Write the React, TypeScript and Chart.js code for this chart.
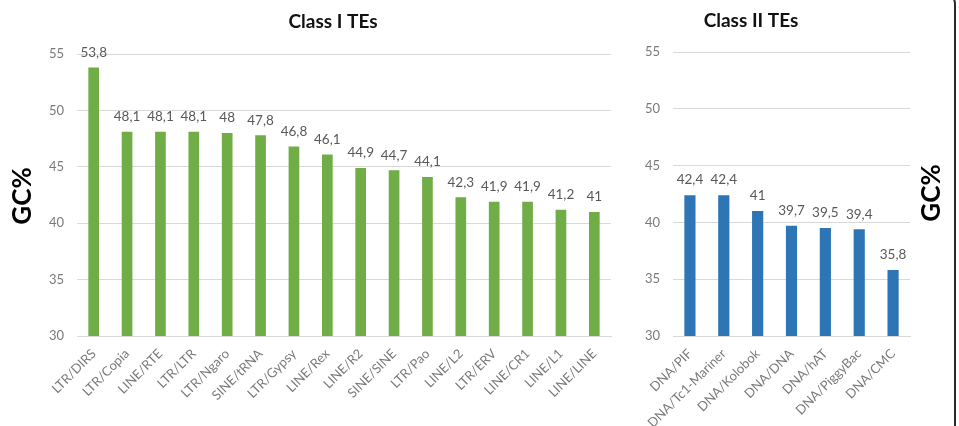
import React, { useEffect, useRef } from "react";
import { Chart, registerables } from "chart.js";

Chart.register(...registerables);

const classICategories = [
  "LTR/DIRS", "LTR/Copia", "LINE/RTE", "LTR/LTR", "LTR/Ngaro", "SINE/tRNA",
  "LTR/Gypsy", "LINE/Rex", "LINE/R2", "SINE/SINE", "LTR/Pao", "LINE/L2",
  "LTR/ERV", "LINE/CR1", "LINE/L1", "LINE/LINE",
];
const classIValues = [53.8, 48.1, 48.1, 48.1, 48, 47.8, 46.8, 46.1, 44.9, 44.7, 44.1, 42.3, 41.9, 41.9, 41.2, 41];

const classIICategories = [
  "DNA/PIF", "DNA/Tc1-Mariner", "DNA/Kolobok", "DNA/DNA", "DNA/hAT", "DNA/PiggyBac", "DNA/CMC",
];
const classIIValues = [42.4, 42.4, 41, 39.7, 39.5, 39.4, 35.8];

const yMin = 30;
const yMax = 55;
const yStep = 5;

const FONT = "Lato, 'Open Sans', sans-serif";

const fmt = (v: number) => String(v).replace(".", ",");

const valueLabels = {
  id: "valueLabels",
  afterDatasetsDraw(chart: any) {
    const ctx = chart.ctx;
    const meta = chart.getDatasetMeta(0);
    const data = chart.data.datasets[0].data as number[];
    ctx.save();
    ctx.font = `13.5px ${FONT}`;
    ctx.fillStyle = "#595959";
    ctx.textAlign = "center";
    ctx.textBaseline = "middle";
    meta.data.forEach((el: any, i: number) => {
      ctx.fillText(fmt(data[i]), el.x, el.y - 15);
    });
    ctx.restore();
  },
};

const extraText = {
  id: "extraText",
  afterDraw(chart: any, _args: any, opts: any) {
    const ctx = chart.ctx;
    ctx.save();
    ctx.fillStyle = "#111";
    ctx.textAlign = "center";
    ctx.textBaseline = "middle";
    ctx.font = `bold 19px ${FONT}`;
    ctx.fillText(opts.title, opts.titleX, opts.titleY);
    ctx.font = `bold 26px ${FONT}`;
    ctx.translate(opts.gcX, opts.gcY);
    ctx.rotate(-Math.PI / 2);
    ctx.fillStyle = "#000";
    ctx.fillText("GC%", 0, 0);
    ctx.restore();
  },
};

function makeConfig(
  labels: string[],
  values: number[],
  color: string,
  barPct: number,
  axisWidth: number,
  padTop: number,
  padRight: number,
  text: any
): any {
  return {
    type: "bar",
    data: {
      labels,
      datasets: [
        {
          data: values,
          backgroundColor: color,
          barPercentage: barPct,
          categoryPercentage: 1,
        },
      ],
    },
    plugins: [valueLabels, extraText],
    options: {
      animation: false,
      responsive: false,
      devicePixelRatio: 1,
      layout: { padding: { top: padTop, right: padRight, left: 0, bottom: 0 } },
      plugins: {
        legend: { display: false },
        tooltip: { enabled: false },
        title: { display: false },
        extraText: text,
      },
      scales: {
        x: {
          grid: { display: false },
          border: { display: true, color: "#d9d9d9", width: 1 },
          ticks: {
            color: "#7a7a7a",
            font: { family: FONT, size: 13 },
            minRotation: 45,
            maxRotation: 45,
            autoSkip: false,
            padding: 2,
          },
          afterFit(scale: any) {
            scale.height = 90;
          },
        },
        y: {
          min: yMin,
          max: yMax,
          border: { display: false },
          grid: { color: "#d9d9d9", lineWidth: 1, drawTicks: false },
          ticks: {
            stepSize: yStep,
            color: "#7a7a7a",
            font: { family: FONT, size: 13 },
            padding: 13,
          },
          afterFit(scale: any) {
            scale.width = axisWidth;
          },
        },
      },
    },
  };
}

export default function App() {
  const leftRef = useRef<HTMLCanvasElement>(null);
  const rightRef = useRef<HTMLCanvasElement>(null);

  useEffect(() => {
    const left = new Chart(
      leftRef.current!,
      makeConfig(classICategories, classIValues, "#70ad47", 0.32, 77, 54, 9, {
        title: "Class I TEs",
        titleX: 333,
        titleY: 22,
        gcX: 23,
        gcY: 196,
      })
    );
    const right = new Chart(
      rightRef.current!,
      makeConfig(classIICategories, classIIValues, "#2e75b6", 0.33, 53, 52, 49, {
        title: "Class II TEs",
        titleX: 131,
        titleY: 21,
        gcX: 312,
        gcY: 193,
      })
    );
    return () => {
      left.destroy();
      right.destroy();
    };
  }, []);

  return (
    <div
      style={{
        position: "absolute",
        left: 0,
        top: 0,
        width: 959,
        height: 426,
        background: "#fff",
        overflow: "hidden",
      }}
    >
      <canvas
        ref={leftRef}
        width={620}
        height={426}
        style={{ position: "absolute", left: 0, top: 0, width: 620, height: 426 }}
      />
      <canvas
        ref={rightRef}
        width={339}
        height={426}
        style={{ position: "absolute", left: 620, top: 0, width: 339, height: 426 }}
      />
      <div
        style={{
          position: "absolute",
          left: -20,
          top: -8,
          width: 976,
          height: 460,
          border: "2px solid #2a2a2a",
          borderRadius: 12,
          boxSizing: "border-box",
          pointerEvents: "none",
        }}
      />
    </div>
  );
}
